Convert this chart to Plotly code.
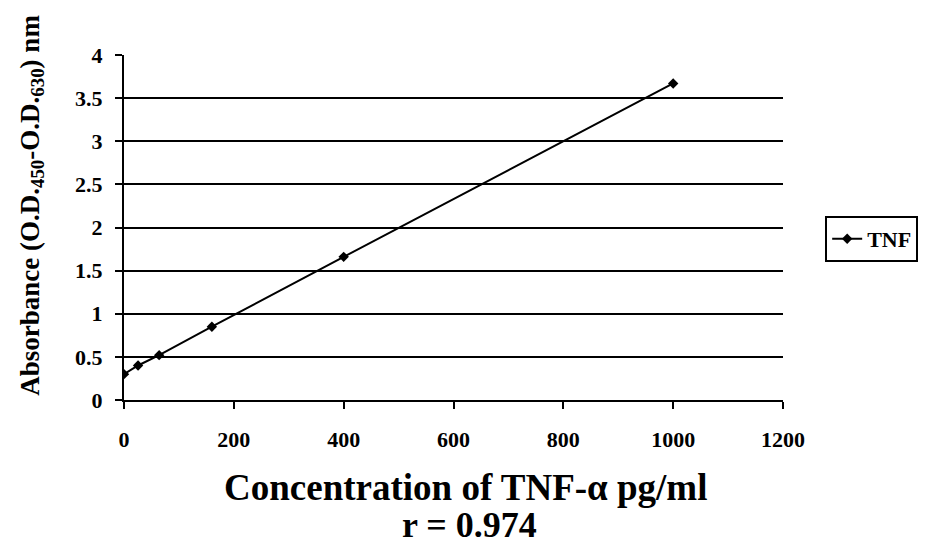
import plotly.graph_objects as go

concentration = [0, 25.6, 64, 160, 400, 1000]
absorbance = [0.30, 0.40, 0.52, 0.85, 1.66, 3.67]
series_name = "TNF"
x_ticks = [0, 200, 400, 600, 800, 1000, 1200]
y_ticks = [0, 0.5, 1, 1.5, 2, 2.5, 3, 3.5, 4]
y_tick_labels = ["0", "0.5", "1", "1.5", "2", "2.5", "3", "3.5", "4"]

FONT = "Liberation Serif"

fig = go.Figure()
fig.add_trace(go.Scatter(
    x=concentration, y=absorbance, name=series_name,
    mode="lines+markers",
    line=dict(color="black", width=2),
    marker=dict(symbol="diamond", size=8, color="black"),
))

fig.update_layout(
    width=930, height=547,
    margin=dict(l=124, r=145, t=55, b=147),
    paper_bgcolor="white", plot_bgcolor="white",
    font=dict(family=FONT, color="black"),
    showlegend=True,
    legend=dict(
        x=1.064, y=0.467, xanchor="left", yanchor="middle",
        bordercolor="black", borderwidth=2, bgcolor="white",
        font=dict(family=FONT, size=22, color="black", weight="bold"),
        itemwidth=30,
    ),
    xaxis=dict(
        range=[0, 1200], tickvals=x_ticks, ticks="outside", ticklen=7,
        tickwidth=1.5, tickcolor="black", ticklabelstandoff=12,
        showgrid=False, zeroline=False,
        showline=True, linecolor="black", linewidth=2,
        tickfont=dict(family=FONT, size=22, color="black", weight="bold"),
    ),
    yaxis=dict(
        range=[0, 4], tickvals=y_ticks, ticktext=y_tick_labels,
        ticks="outside", ticklen=7, tickwidth=1.5, tickcolor="black",
        ticklabelstandoff=8,
        showgrid=True, gridcolor="black", gridwidth=1.5,
        zeroline=False,
        showline=True, linecolor="black", linewidth=2,
        tickfont=dict(family=FONT, size=22, color="black", weight="bold"),
    ),
    annotations=[
        dict(text="Absorbance (O.D.<sub>450</sub>-O.D.<sub>630</sub>) nm",
             xref="paper", yref="paper", x=-0.14, y=0.565,
             xanchor="center", yanchor="middle", textangle=-90,
             showarrow=False,
             font=dict(family=FONT, size=27, color="black", weight="bold")),
        dict(text="Concentration of TNF-α pg/ml",
             xref="paper", yref="paper", x=0.518, y=-0.255,
             xanchor="center", yanchor="middle", showarrow=False,
             font=dict(family=FONT, size=37, color="black", weight="bold")),
        dict(text="r = 0.974",
             xref="paper", yref="paper", x=0.525, y=-0.362,
             xanchor="center", yanchor="middle", showarrow=False,
             font=dict(family=FONT, size=36, color="black", weight="bold")),
    ],
)

fig.write_html("out.html", config={"displayModeBar": False},
               post_script="document.body.style.margin='0';")
